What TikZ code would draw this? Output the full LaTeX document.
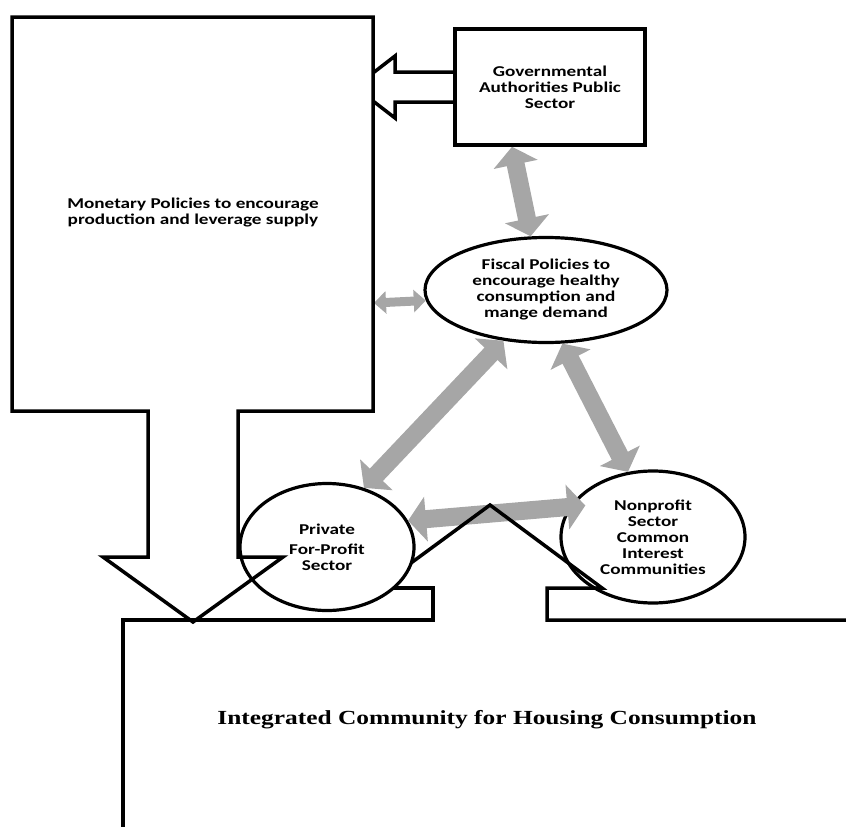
\documentclass[tikz,border=0pt]{standalone}
\usepackage{fontspec}
\usepackage{tikz}
\usetikzlibrary{arrows.meta,shapes.geometric}
\newfontfamily\boxfont{Carlito}[FakeStretch=1.28]
\newfontfamily\basefont{Liberation Serif}[FakeStretch=1.27]

\begin{document}
\begin{tikzpicture}[x=1pt,y=-1pt,
  outline/.style={draw=cline,line width=3.5pt,line join=miter},
  labeltext/.style={align=center,text=clabel,font=\boxfont\bfseries\fontsize{15}{16}\selectfont},
  bubble/.style={ellipse,outline,line width=3.2pt,labeltext,inner sep=0pt},
  twoway/.style={draw=cgray,line width=18pt,{Triangle[width=44pt,length=18pt]}-{Triangle[width=44pt,length=18pt]}},
  shortway/.style={draw=cgray,line width=9pt,{Triangle[width=22pt,length=12pt]}-{Triangle[width=22pt,length=12pt]}}]
%
\useasboundingbox (0,0) rectangle (846,827);
%
\definecolor{cline}{rgb}{0.0,0.0,0.0}
\definecolor{clabel}{rgb}{0.0,0.0,0.0}
\definecolor{cgray}{rgb}{0.65,0.65,0.65}
%
\node[bubble,minimum width=242pt,minimum height=105pt] (fiscal) at (546,290) {Fiscal Policies to\\encourage healthy\\consumption and\\mange demand};
\node[bubble,minimum width=174pt,minimum height=127pt] (private) at (327,547) {Private\\[4pt]For-Profit\\Sector};
\node[bubble,minimum width=184pt,minimum height=132pt] (nonprofit) at (653,537) {Nonprofit\\Sector\\Common\\Interest\\Communities};
\node[outline,labeltext,minimum width=190pt,minimum height=116pt] (gov) at (550,87) {Governmental\\Authorities Public\\Sector};
\coordinate (monetaryE) at (374,303);
%
\draw[twoway] ([xshift=-38pt]gov.south) -- (fiscal.106);
\draw[shortway] (monetaryE) -- (fiscal.185);
\draw[twoway] (fiscal.230) -- (private.58);
\draw[twoway] (fiscal.287) -- (nonprofit.111);
\draw[twoway] (private.18) -- ([shift={(12pt,-4pt)}]nonprofit.156);
%
% community with the roof
\draw[outline] (846,620) -- (547,620) -- (547,588) -- (602,588) -- (490,505) -- (411,563);
\draw[outline] (393,588) -- (433,588) -- (433,620) -- (123,620) -- (123,827);
%
% block arrow from the public sector
\draw[outline] ([yshift=15pt]gov.west) -- (395,72) -- (395,56) -- (373,73);
\draw[outline] ([yshift=-15pt]gov.west) -- (395,102) -- (395,118) -- (373,101);
%
% monetary box with its down arrow
\draw[outline] (12,17) -- (373,17) -- (373,411) -- (238,411) -- (238,557) -- (283,557) -- (193,622) -- (103,557) -- (148,557) -- (148,411) -- (12,411) -- cycle;
%
\node[labeltext] (monetary) at (193,213) {Monetary Policies to encourage\\production and leverage supply};
\node[text=clabel,font=\basefont\bfseries\fontsize{20}{24}\selectfont] (community) at (487,720) {Integrated Community for Housing Consumption};
%
\end{tikzpicture}
\end{document}
